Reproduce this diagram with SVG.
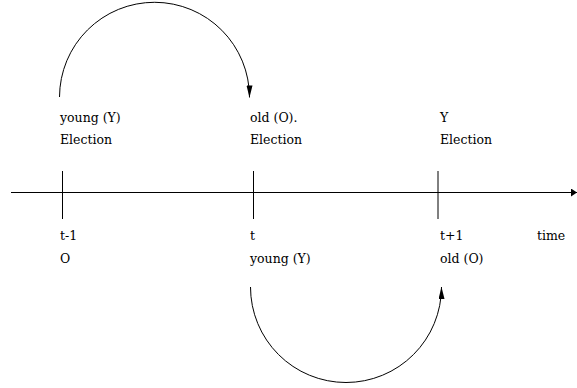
<svg xmlns="http://www.w3.org/2000/svg" width="577" height="388" viewBox="0 0 577 388">
<style>
text{font-family:"DejaVu Serif","Liberation Serif",serif;font-size:12.5px;fill:#000}
.ln{stroke:#000;stroke-width:1;fill:none}
</style>
<defs>
<marker id="ah" markerWidth="12" markerHeight="6" refX="12" refY="3" orient="auto" markerUnits="userSpaceOnUse">
<path d="M0,0 L12,3 L0,6 Z" fill="#000"/>
</marker>
<marker id="ax" markerWidth="6" markerHeight="8" refX="6" refY="4" orient="auto" markerUnits="userSpaceOnUse">
<path d="M0,0 L6,4 L0,8 Z" fill="#000"/>
</marker>
</defs>
<rect width="577" height="388" fill="#fff"/>
<g id="connectors">
<path class="ln" d="M11,192.5 H577" marker-end="url(#ax)"/>
<path class="ln" d="M59.5,97 A95,95 0 0 1 249.5,97.5" marker-end="url(#ah)"/>
<path class="ln" d="M250.5,287 A95.5,95.5 0 0 0 441.5,287" marker-end="url(#ah)"/>
</g>
<g id="ticks">
<line class="ln" x1="62.5" y1="171" x2="62.5" y2="219"/>
<line class="ln" x1="253.5" y1="171" x2="253.5" y2="219"/>
<line class="ln" x1="438" y1="171" x2="438" y2="219"/>
</g>
<g id="node-t-1">
<text x="60" y="122">young (Y)</text>
<text x="60" y="144">Election</text>
<text x="60" y="240">t-1</text>
<text x="60" y="263">O</text>
</g>
<g id="node-t">
<text x="250" y="122">old (O).</text>
<text x="250" y="144">Election</text>
<text x="250" y="240">t</text>
<text x="250" y="263">young (Y)</text>
</g>
<g id="node-t1">
<text x="440" y="122">Y</text>
<text x="440" y="144">Election</text>
<text x="440" y="240">t+1</text>
<text x="440" y="263">old (O)</text>
</g>
<g id="node-time">
<text x="537" y="240">time</text>
</g>
</svg>
